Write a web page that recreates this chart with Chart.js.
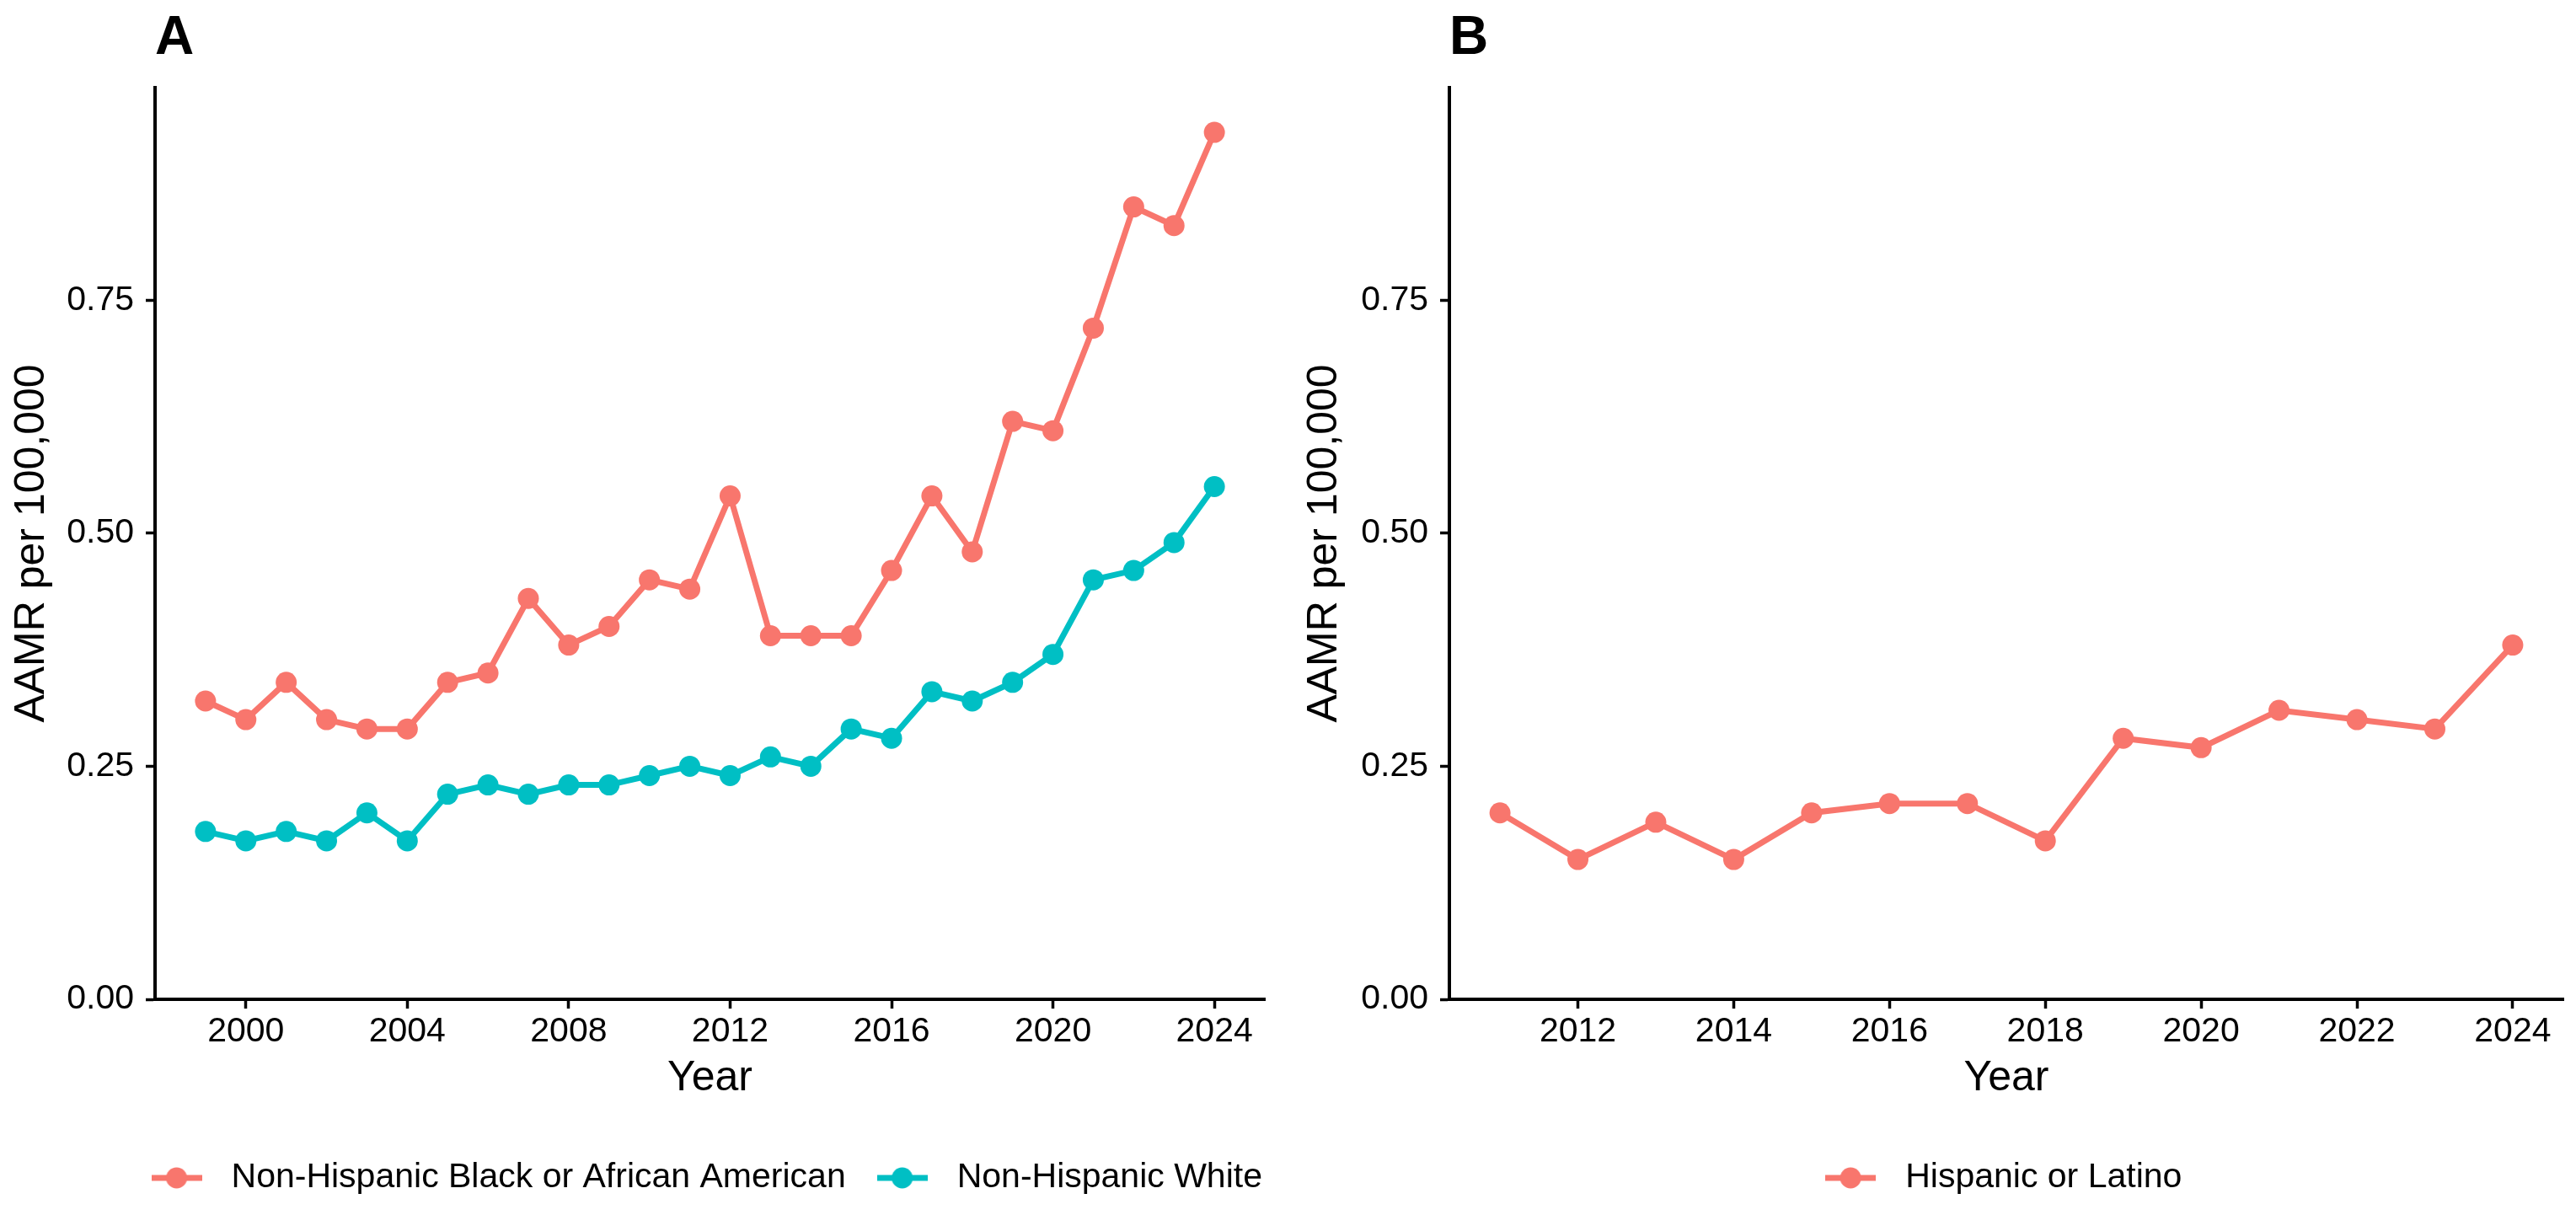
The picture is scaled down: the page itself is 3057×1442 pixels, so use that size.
<!DOCTYPE html>
<html>
<head>
<meta charset="utf-8">
<title>AAMR per 100,000 by race and ethnicity</title>
<script src="https://cdn.jsdelivr.net/npm/chart.js@4.4.1/dist/chart.umd.min.js"></script>
<style>
  html, body { margin: 0; padding: 0; background: #fff; overflow: hidden; }
  #wrap { position: relative; width: 3057px; height: 1442px; }
  canvas { position: absolute; top: 0; }
  #panelA { left: 0; }
  #panelB { left: 1530px; }
</style>
</head>
<body>
<div id="wrap">
  <canvas id="panelA" width="1663" height="1442"></canvas>
  <canvas id="panelB" width="1681" height="1442"></canvas>
</div>
<script>
// Panel A: 1999-2024
var yearsA = [1999, 2000, 2001, 2002, 2003, 2004, 2005, 2006, 2007, 2008, 2009, 2010, 2011,
              2012, 2013, 2014, 2015, 2016, 2017, 2018, 2019, 2020, 2021, 2022, 2023, 2024];
var blackRates = [0.32, 0.30, 0.34, 0.30, 0.29, 0.29, 0.34, 0.35, 0.43, 0.38, 0.40, 0.45, 0.44,
                  0.54, 0.39, 0.39, 0.39, 0.46, 0.54, 0.48, 0.62, 0.61, 0.72, 0.85, 0.83, 0.93];
var whiteRates = [0.18, 0.17, 0.18, 0.17, 0.20, 0.17, 0.22, 0.23, 0.22, 0.23, 0.23, 0.24, 0.25,
                  0.24, 0.26, 0.25, 0.29, 0.28, 0.33, 0.32, 0.34, 0.37, 0.45, 0.46, 0.49, 0.55];

// Panel B: 2011-2024
var yearsB = [2011, 2012, 2013, 2014, 2015, 2016, 2017, 2018, 2019, 2020, 2021, 2022, 2023, 2024];
var hispanicRates = [0.20, 0.15, 0.19, 0.15, 0.20, 0.21, 0.21, 0.17, 0.28, 0.27, 0.31, 0.30, 0.29, 0.38];

var yTicks = [0, 0.25, 0.5, 0.75];
var xTicksA = [2000, 2004, 2008, 2012, 2016, 2020, 2024];
var xTicksB = [2012, 2014, 2016, 2018, 2020, 2022, 2024];

var RED = '#F8766D';
var TEAL = '#00BFC4';

Chart.defaults.font.family = "'Liberation Sans', Arial, Helvetica, sans-serif";
Chart.defaults.color = '#000';

function points(xs, ys) {
    return xs.map(function(x, i) { return { x: x, y: ys[i] }; });
}

function series(label, xs, ys, color) {
    return {
        label: label,
        data: points(xs, ys),
        borderColor: color,
        backgroundColor: color,
        pointBackgroundColor: color,
        pointBorderWidth: 0,
        pointRadius: 12.5,
        pointHoverRadius: 12.5,
        borderWidth: 7,
        tension: 0,
        fill: false
    };
}

// ggplot style key: short line with a dot on it
function legendKey(color) {
    var c = document.createElement('canvas');
    c.width = 60;
    c.height = 26;
    var g = c.getContext('2d');
    g.fillStyle = color;
    g.fillRect(0, 9.5, 60, 7);
    g.beginPath();
    g.arc(30, 13, 12.5, 0, Math.PI * 2);
    g.fill();
    return c;
}

function fixedTicks(list) {
    return function(scale) {
        scale.ticks = list.map(function(v) { return { value: v }; });
    };
}

function makePanel(id, p) {
    return new Chart(document.getElementById(id), {
        type: 'line',
        data: { datasets: p.datasets },
        options: {
            responsive: false,
            animation: false,
            devicePixelRatio: 1,
            events: [],
            layout: { padding: { top: 0, left: 0, right: 0, bottom: 13.5 } },
            scales: {
                x: {
                    type: 'linear',
                    position: 'bottom',
                    min: p.xMin,
                    max: p.xMax,
                    afterBuildTicks: fixedTicks(p.xTicks),
                    afterFit: function(s) { s.height = 169; },
                    border: { display: true, color: '#000', width: 4 },
                    grid: { display: true, drawOnChartArea: false, drawTicks: true, tickLength: 11, tickWidth: 3.5, tickColor: '#000' },
                    ticks: {
                        padding: 7.5, color: '#000', maxRotation: 0, autoSkip: false,
                        font: { size: 41, lineHeight: 1 },
                        callback: function(v) { return String(v); }
                    },
                    title: { display: true, text: 'Year', color: '#000', font: { size: 50, lineHeight: 1 }, padding: { top: 0, bottom: 50 } }
                },
                y: {
                    type: 'linear',
                    position: 'left',
                    min: 0,
                    max: 0.978,
                    afterBuildTicks: fixedTicks(yTicks),
                    afterFit: function(s) { s.width = p.yAxisWidth; },
                    border: { display: true, color: '#000', width: 4 },
                    grid: { display: true, drawOnChartArea: false, drawTicks: true, tickLength: 11, tickWidth: 3.5, tickColor: '#000' },
                    ticks: {
                        padding: 14, color: '#000',
                        font: { size: 41, lineHeight: 1 },
                        callback: function(v) { return Number(v).toFixed(2); }
                    },
                    title: { display: true, text: 'AAMR per 100,000', color: '#000', font: { size: 50, lineHeight: 1 }, padding: { top: p.yTitlePad, bottom: 0 } }
                },
                // empty right box so the legend centres under the panel
                yPad: {
                    type: 'linear',
                    position: 'right',
                    display: true,
                    grid: { display: false },
                    border: { display: false },
                    ticks: { display: false },
                    afterFit: function(s) { s.width = p.rightWidth; }
                }
            },
            plugins: {
                title: {
                    display: true,
                    text: p.tag,
                    align: 'start',
                    fullSize: false,
                    color: '#000',
                    font: { size: 64, weight: 'bold', lineHeight: 1 },
                    padding: { top: 14, bottom: 26 }
                },
                legend: {
                    display: true,
                    position: 'bottom',
                    align: 'center',
                    labels: {
                        usePointStyle: true,
                        pointStyleWidth: 89,
                        padding: 22.5,
                        color: '#000',
                        font: { size: 41, lineHeight: 1 },
                        generateLabels: function(chart) {
                            var items = Chart.defaults.plugins.legend.labels.generateLabels(chart);
                            items.forEach(function(item) {
                                item.pointStyle = legendKey(chart.data.datasets[item.datasetIndex].borderColor);
                                item.fontColor = '#000';
                            });
                            return items;
                        }
                    }
                },
                tooltip: { enabled: false }
            }
        }
    });
}

makePanel('panelA', {
    tag: 'A',
    datasets: [
        series('Non-Hispanic Black or African American', yearsA, blackRates, RED),
        series('Non-Hispanic White', yearsA, whiteRates, TEAL)
    ],
    xMin: 1997.75,
    xMax: 2025.25,
    xTicks: xTicksA,
    yAxisWidth: 184,
    rightWidth: 162,
    yTitlePad: 13
});

makePanel('panelB', {
    tag: 'B',
    datasets: [
        series('Hispanic or Latino', yearsB, hispanicRates, RED)
    ],
    xMin: 2010.35,
    xMax: 2024.65,
    xTicks: xTicksB,
    yAxisWidth: 190,
    rightWidth: 169,
    yTitlePad: 17.5
});
</script>
</body>
</html>
